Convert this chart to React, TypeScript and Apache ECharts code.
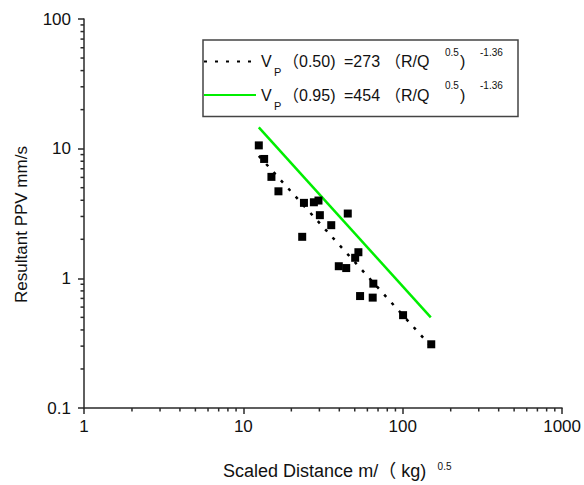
import React, { useEffect, useRef } from 'react';
import * as echarts from 'echarts';

// Scatter data (scaled distance, resultant PPV)
const scaledDistance = [12.5, 13.5, 15.0, 16.6, 24.0, 27.7, 29.6, 30.2, 45.2, 35.6, 23.4, 52.7, 50.3, 39.7, 44.2, 65.4, 54.0, 64.8, 100.5, 151];
const resultantPPV = [10.6, 8.33, 6.06, 4.69, 3.82, 3.86, 3.98, 3.07, 3.16, 2.57, 2.09, 1.59, 1.44, 1.24, 1.2, 0.91, 0.73, 0.71, 0.52, 0.31];

// Fitted lines (end points)
const fitDistance = [12.5, 150];
const fitPPV50 = [8.8, 0.3];
const fitPPV95 = [14.6, 0.5];

// Axis ticks
const xTicks = [1, 10, 100, 1000];
const yTicks = [0.1, 1, 10, 100];
const xMinorTicks = [2, 3, 4, 5, 6, 7, 8, 9, 20, 30, 40, 50, 60, 70, 80, 90, 200, 300, 400, 500, 600, 700, 800, 900];
const yMinorTicks = [0.2, 0.3, 0.4, 0.5, 0.6, 0.7, 0.8, 0.9, 2, 3, 4, 5, 6, 7, 8, 9, 20, 30, 40, 50, 60, 70, 80, 90];

const legendNames = ['V50', 'V95'];
const legendText: Record<string, string> = {
  V50: '{v|V}{s|P}{a|（0.50)}{b|=273}{c|（R/Q}{d|0.5}{e|)}{f|-1.36}',
  V95: '{v|V}{s|P}{a|（0.95)}{b|=454}{c|（R/Q}{d|0.5}{e|)}{f|-1.36}',
};

const FONT = '"Liberation Sans", Arial, "Noto Sans CJK SC", sans-serif';
const AXIS = '#2a2a2a';
const TEXT = '#111';
const LH = 33;

export default function App() {
  const ref = useRef<HTMLDivElement>(null);
  useEffect(() => {
    if (!ref.current) return;
    const chart = echarts.init(ref.current, null, { renderer: 'svg' });
    const fmt = (v: number) => String(parseFloat(Number(v).toPrecision(4)));
    const tok = (fontSize: number, width: number, extra: any = {}) => ({
      fontSize, width, lineHeight: LH, fontFamily: FONT, color: TEXT, ...extra,
    });
    chart.setOption({
      animation: false,
      grid: { left: 84, right: 21, top: 19, bottom: 76 },
      legend: {
        data: legendNames,
        orient: 'vertical',
        left: 203,
        top: 40,
        padding: [5, 13, 5, 0],
        itemWidth: 52,
        itemHeight: 14,
        itemGap: 0.5,
        itemTextGap: 3,
        borderColor: '#444',
        borderWidth: 1.5,
        selectedMode: false,
        itemStyle: { opacity: 0 },
        formatter: (name: string) => legendText[name],
        textStyle: {
          fontSize: 16,
          fontFamily: FONT,
          color: TEXT,
          lineHeight: LH,
          rich: {
            v: tok(16, 13),
            s: tok(11, 9, { height: 12, verticalAlign: 'bottom' }),
            a: tok(16, 61),
            b: tok(16, 41),
            c: tok(16, 60),
            d: tok(10, 15, { height: 14, verticalAlign: 'top' }),
            e: tok(16, 20),
            f: tok(10, 25, { height: 14, verticalAlign: 'top' }),
          },
        },
      },
      xAxis: {
        type: 'log',
        logBase: 10,
        min: xTicks[0],
        max: xTicks[xTicks.length - 1],
        axisLine: { show: true, onZero: false, lineStyle: { color: AXIS, width: 1.5 } },
        axisTick: { show: true, length: 6, inside: false, lineStyle: { color: AXIS, width: 1.5 } },
        axisLabel: { fontSize: 17, color: TEXT, fontFamily: FONT, margin: 10, formatter: fmt },
        splitLine: { show: false },
        name: '{t|Scaled Distance m/（ kg)}{s|0.5}',
        nameLocation: 'middle',
        nameGap: 52,
        nameTextStyle: {
          padding: [0, 0, 0, 17],
          rich: {
            t: { fontSize: 18, width: 226, lineHeight: 22, fontFamily: FONT, color: TEXT },
            s: { fontSize: 10, lineHeight: 22, height: 12, verticalAlign: 'top', fontFamily: FONT, color: TEXT },
          },
        },
      },
      yAxis: {
        type: 'log',
        logBase: 10,
        min: yTicks[0],
        max: yTicks[yTicks.length - 1],
        axisLine: { show: true, onZero: false, lineStyle: { color: AXIS, width: 1.5 } },
        axisTick: { show: true, length: 6, inside: false, lineStyle: { color: AXIS, width: 1.5 } },
        axisLabel: { fontSize: 17, color: TEXT, fontFamily: FONT, margin: 13, formatter: fmt },
        splitLine: { show: false },
        name: 'Resultant PPV mm/s',
        nameLocation: 'middle',
        nameGap: 54,
        nameTextStyle: { fontSize: 17, color: TEXT, fontFamily: FONT, padding: [0, 22, 0, 0] },
      },
      series: [
        {
          name: 'xMinor',
          type: 'custom',
          silent: true,
          clip: false,
          data: xMinorTicks.map((v) => [v, yTicks[0]]),
          renderItem: (_p: any, api: any) => {
            const p = api.coord([api.value(0), yTicks[0]]);
            return {
              type: 'line',
              shape: { x1: p[0], y1: p[1], x2: p[0], y2: p[1] + 3.5 },
              style: { stroke: AXIS, lineWidth: 1.5 },
            };
          },
        },
        {
          name: 'yMinor',
          type: 'custom',
          silent: true,
          clip: false,
          data: yMinorTicks.map((v) => [xTicks[0], v]),
          renderItem: (_p: any, api: any) => {
            const p = api.coord([xTicks[0], api.value(1)]);
            return {
              type: 'line',
              shape: { x1: p[0] - 3.5, y1: p[1], x2: p[0], y2: p[1] },
              style: { stroke: AXIS, lineWidth: 1.5 },
            };
          },
        },
        {
          name: 'V95',
          type: 'line',
          symbol: 'none',
          data: fitDistance.map((x, i) => [x, fitPPV95[i]]),
          lineStyle: { color: '#00ee00', width: 2.5 },
          itemStyle: { color: '#00ee00' },
          z: 3,
        },
        {
          name: 'V50',
          type: 'line',
          symbol: 'none',
          data: fitDistance.map((x, i) => [x, fitPPV50[i]]),
          lineStyle: { color: '#000', width: 2.5, type: [3, 8] },
          itemStyle: { color: '#000' },
          z: 3,
        },
        {
          name: 'data',
          type: 'scatter',
          symbol: 'rect',
          symbolSize: 8,
          data: scaledDistance.map((x, i) => [x, resultantPPV[i]]),
          itemStyle: { color: '#000', opacity: 1 },
          z: 4,
        },
      ],
    });
    return () => chart.dispose();
  }, []);
  return (
    <div
      ref={ref}
      style={{ position: 'fixed', left: 0, top: 0, width: 584, height: 485, background: '#fff' }}
    />
  );
}
